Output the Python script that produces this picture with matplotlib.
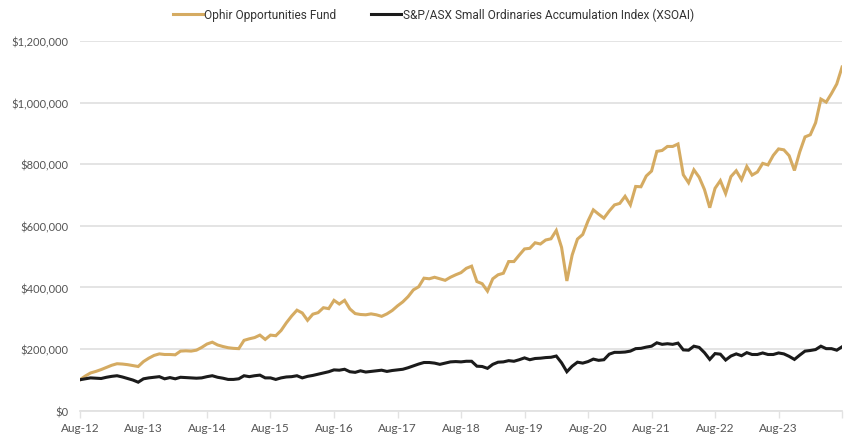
import matplotlib
matplotlib.use('Agg')
import matplotlib.pyplot as plt
from matplotlib.ticker import FuncFormatter, FixedLocator

# Growth of $100,000 invested, monthly, Aug-12 to Aug-24 (values in $000)
ophir = [100, 112, 122, 127, 133, 140, 147, 152, 151, 149, 146, 143,
         159, 170, 179, 184, 182, 182, 181, 193, 194, 193, 196, 205,
         216, 222, 213, 208, 204, 202, 201, 228, 233, 237, 245, 231,
         245, 243, 260, 285, 307, 326, 317, 293, 313, 318, 334, 331,
         358, 346, 358, 330, 315, 312, 311, 314, 311, 306, 314, 325,
         340, 353, 370, 392, 402, 430, 428, 433, 428, 423, 433, 441,
         448, 462, 469, 419, 412, 388, 428, 441, 446, 484, 484, 505,
         525, 527, 545, 541, 554, 558, 585, 530, 421, 505, 557, 572,
         616, 652, 638, 625, 648, 668, 673, 696, 668, 728, 727, 762,
         778, 842, 845, 858, 858, 866, 766, 740, 782, 758, 718, 659,
         722, 747, 705, 760, 779, 750, 793, 765, 775, 803, 798, 829,
         850, 847, 828, 780, 840, 889, 896, 935, 1012, 1002, 1030, 1061,
         1116]
xsoai = [100, 103, 106, 105, 104, 108, 111, 113, 109, 104, 99, 92,
         103, 106, 108, 110, 103, 107, 103, 108, 107, 106, 105, 106,
         110, 113, 108, 105, 101, 101, 103, 113, 110, 113, 115, 106,
         106, 101, 106, 109, 110, 113, 106, 111, 114, 118, 122, 126,
         132, 131, 134, 126, 124, 129, 125, 127, 129, 131, 127, 130,
         132, 134, 139, 145, 151, 156, 156, 154, 150, 154, 158, 159,
         158, 160, 160, 144, 143, 137, 150, 157, 158, 162, 160, 165,
         171, 165, 169, 170, 172, 173, 177, 155, 126, 144, 157, 154,
         159, 167, 163, 165, 183, 189, 189, 190, 193, 201, 202, 206,
         209, 220, 215, 217, 215, 219, 197, 196, 209, 205, 188, 166,
         185, 183, 164, 177, 184, 178, 188, 182, 182, 187, 182, 182,
         187, 184, 176, 166, 180, 193, 195, 198, 209, 201, 201, 196,
         207]
tick_labels = ['Aug-12', 'Aug-13', 'Aug-14', 'Aug-15', 'Aug-16', 'Aug-17',
               'Aug-18', 'Aug-19', 'Aug-20', 'Aug-21', 'Aug-22', 'Aug-23', '']
series_names = ['Ophir Opportunities Fund',
                'S&P/ASX Small Ordinaries Accumulation Index (XSOAI)']

gold = '#D5AB62'
dark = '#1b1b1b'
grey = '#e2e2e2'

months = list(range(len(ophir)))

fig = plt.figure(figsize=(8.48, 4.35), dpi=100)
ax = fig.add_axes([0.0943, 0.054, 0.8987, 0.849])

ax.plot(months, [v * 1000 for v in ophir], color=gold, lw=2.2,
        label=series_names[0], solid_joinstyle='miter')
ax.plot(months, [v * 1000 for v in xsoai], color=dark, lw=2.2,
        label=series_names[1], solid_joinstyle='miter')

ax.set_xlim(0, 144)
ax.set_ylim(0, 1200000)
ax.yaxis.set_major_locator(FixedLocator(range(0, 1200001, 200000)))
ax.yaxis.set_major_formatter(FuncFormatter(lambda v, p: '${:,.0f}'.format(v)))
ax.xaxis.set_major_locator(FixedLocator(range(0, 145, 12)))
ax.set_xticklabels(tick_labels)

ax.grid(axis='y', color=grey, lw=1.3)
ax.set_axisbelow(True)
for s in ['top', 'right', 'left']:
    ax.spines[s].set_visible(False)
ax.spines['bottom'].set_color(grey)
ax.spines['bottom'].set_linewidth(1.3)
ax.tick_params(axis='y', length=0, pad=8, labelsize=8, labelcolor='#555555')
ax.tick_params(axis='x', length=5, width=1, color=grey, pad=3,
               labelsize=8.5, labelcolor='#555555')
for lab in ax.get_yticklabels() + ax.get_xticklabels():
    lab.set_family('Lato')

fig.legend(loc='center', bbox_to_anchor=(0.511, 0.965), ncol=2,
           frameon=False, handlelength=2.5, handletextpad=0.15,
           columnspacing=2.9, labelcolor='#333333',
           prop={'family': 'Roboto', 'size': 8.6})

fig.savefig('out.png', dpi=100)
